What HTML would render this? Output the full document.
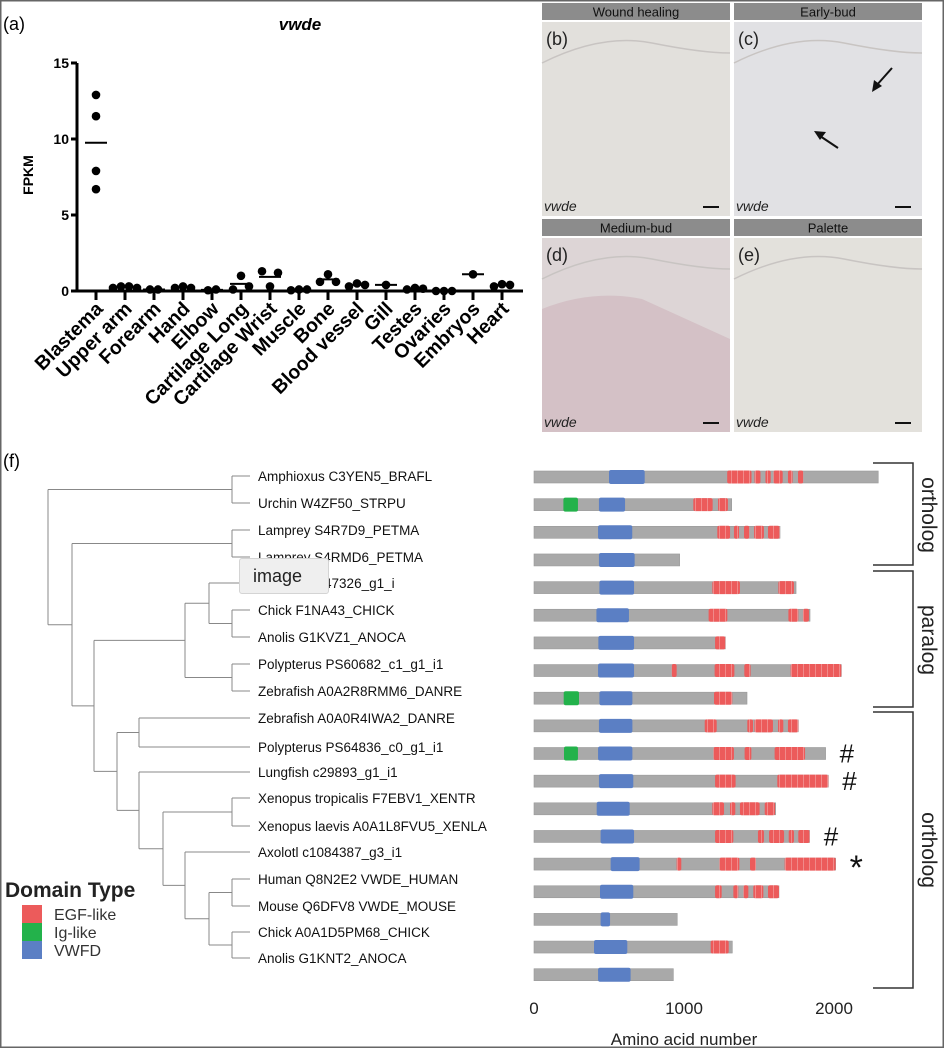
<!DOCTYPE html>
<html><head><meta charset="utf-8"><style>
html,body{margin:0;padding:0;background:#fff;}
#root{position:relative;width:944px;height:1048px;overflow:hidden;font-family:"Liberation Sans",Arial,sans-serif;}
svg{position:absolute;left:0;top:0;}
</style></head><body>
<div id="root">
<svg id="fig" width="944" height="1048" viewBox="0 0 944 1048">
<defs>
<pattern id="egfp" width="6" height="20" patternUnits="userSpaceOnUse"><rect width="6" height="20" fill="#ec5b5b"/><rect x="5" width="1" height="20" fill="#f08a8a"/></pattern>
</defs>
<rect x="0.5" y="0.5" width="943" height="1047" fill="none" stroke="#666" stroke-width="2"/>
<g id="panelA"></g>
<g id="panelsBE"></g>
<g id="tree"></g>
<g id="domains"></g>
</svg>
<div style="position:absolute;left:239px;top:558px;width:90px;height:36px;background:#efefef;border:1px solid #d4d4d4;border-radius:3px;box-sizing:border-box;font-size:18px;line-height:34px;padding-left:13px;color:#222;">image</div>
</div>
<script>
// ---------- Panel (a) data ----------
const tissues = ["Blastema","Upper arm","Forearm","Hand","Elbow","Cartilage Long","Cartilage Wrist","Muscle","Bone","Blood vessel","Gill","Testes","Ovaries","Embryos","Heart"];
const fpkmValues = [[12.9,11.5,7.9,6.7],[0.2,0.3,0.3,0.2],[0.1,0.1],[0.2,0.3,0.2],[0.05,0.1],[0.1,1.0,0.3],[1.3,0.3,1.2],[0.05,0.1,0.1],[0.6,1.1,0.6],[0.3,0.5,0.4],[0.4],[0.1,0.2,0.15],[0,0,0],[1.1],[0.3,0.45,0.4]];
const yTicks = [0,5,10,15];

// ---------- Panel (f) data ----------
const species = ["Amphioxus C3YEN5_BRAFL","Urchin W4ZF50_STRPU","Lamprey S4R7D9_PETMA","Lamprey S4RMD6_PETMA","Axolotl c1047326_g1_i","Chick F1NA43_CHICK","Anolis G1KVZ1_ANOCA","Polypterus PS60682_c1_g1_i1","Zebrafish A0A2R8RMM6_DANRE","Zebrafish A0A0R4IWA2_DANRE","Polypterus PS64836_c0_g1_i1","Lungfish c29893_g1_i1","Xenopus tropicalis F7EBV1_XENTR","Xenopus laevis A0A1L8FVU5_XENLA","Axolotl c1084387_g3_i1","Human Q8N2E2 VWDE_HUMAN","Mouse Q6DFV8 VWDE_MOUSE","Chick A0A1D5PM68_CHICK","Anolis G1KNT2_ANOCA"];
const proteinLengths = [2295,1318,1640,971,1747,1840,1276,2049,1420,1762,1944,1962,1611,1838,2011,1633,955,1322,929];
const vwfdDomains = [[500,738],[433,607],[427,655],[433,671],[436,667],[416,633],[429,667],[427,667],[436,656],[433,656],[427,656],[433,662],[418,638],[444,667],[511,704],[440,662],[444,507],[400,622],[427,644]];
const igDomains = [[],[[196,293]],[],[],[],[],[],[],[[198,300]],[],[[200,293]],[],[],[],[],[],[],[],[]];
const egfDomains = [
 [[1288,1450],[1470,1510],[1543,1578],[1596,1658],[1693,1724],[1760,1795]],
 [[1062,1191],[1227,1293]],
 [[1222,1307],[1333,1367],[1400,1436],[1467,1533],[1560,1638]],
 [],
 [[1189,1373],[1629,1733]],
 [[1164,1289],[1696,1762],[1793,1833]],
 [[1207,1276]],
 [[918,951],[1204,1336],[1402,1444],[1711,2049]],
 [[1200,1322]],
 [[1138,1218],[1422,1460],[1470,1593],[1627,1662],[1693,1762]],
 [[1196,1333],[1404,1449],[1604,1807]],
 [[1207,1344],[1622,1962]],
 [[1189,1267],[1307,1342],[1373,1504],[1538,1607]],
 [[1207,1329],[1493,1533],[1567,1667],[1698,1733],[1762,1838]],
 [[951,982],[1236,1369],[1440,1480],[1671,2011]],
 [[1207,1251],[1329,1362],[1396,1429],[1462,1529],[1560,1633]],
 [],
 [[1178,1298]],
 []
];
const rowMarks = ["","","","","","","","","","","#","#","","#","*","","","",""];
const aaTicks = [0,1000,2000];

const NS="http://www.w3.org/2000/svg";
function mk(parent,tag,attrs,text){const e=document.createElementNS(NS,tag);for(const k in attrs)e.setAttribute(k,attrs[k]);if(text!==undefined)e.textContent=text;parent.appendChild(e);return e;}

// ---------- Panel (a) ----------
(function(){
 const g=document.getElementById('panelA');
 const x0=77,x1=523,y0=291,yTop=63,yMax=15;
 const ys=v=>y0-(v/yMax)*(y0-yTop);
 const xs=i=>96+i*29;
 let t=mk(g,'text',{x:3,y:30,'font-size':18},'(a)');
 
 
 t=mk(g,'text',{x:300,y:30,'font-size':17,'font-weight':'bold','font-style':'italic','text-anchor':'middle'},'vwde');
 
 
 let l=mk(g,'line',{x1:x0,y1:yTop,x2:x0,y2:y0+1.5,stroke:'#000','stroke-width':3});
 
 
 l=mk(g,'line',{x1:x0-1.5,y1:y0,x2:x1,y2:y0,stroke:'#000','stroke-width':3});
 
 
 yTicks.forEach(v=>{
  const tk=mk(g,'line',{x1:x0-6,y1:ys(v),x2:x0,y2:ys(v),stroke:'#000','stroke-width':3});
  
  
  const tl=mk(g,'text',{x:x0-8,y:ys(v)+5,'font-size':14,'font-weight':'bold','text-anchor':'end'},String(v));
  
  
 });
 t=mk(g,'text',{x:0,y:0,'font-size':14,'font-weight':'bold','text-anchor':'middle',transform:'translate(33,175) rotate(-90)'},'FPKM');
 
 
 tissues.forEach((name,i)=>{
  const x=xs(i);
  const tk=mk(g,'line',{x1:x,y1:y0,x2:x,y2:y0+9,stroke:'#000','stroke-width':3});
  
  
  const tl=mk(g,'text',{x:0,y:0,'font-size':19.5,'font-weight':'bold','text-anchor':'end',transform:`translate(${x+8},${y0+19}) rotate(-45)`},name);
  
  
  const vals=fpkmValues[i];
  const mean=vals.reduce((a,b)=>a+b,0)/vals.length;
  const ml=mk(g,'line',{x1:x-11,y1:ys(mean),x2:x+11,y2:ys(mean),stroke:'#000','stroke-width':2});
  
  
  const n=vals.length;
  vals.forEach((v,j)=>{
   const off=i===0?0:(j-(n-1)/2)*8;
   const c=mk(g,'circle',{cx:x+off,cy:ys(v),r:4.3,fill:'#000'});
   
   
  });
 });
})();

// ---------- Panels (b)-(e) ----------
(function(){
 const g=document.getElementById('panelsBE');
 const panels=[["Wound healing","(b)",542,3,"#e2e0dc"],["Early-bud","(c)",734,3,"#e1e1e4"],["Medium-bud","(d)",542,219,"#ddd5d6"],["Palette","(e)",734,219,"#e3e1dc"]];
 panels.forEach(p=>{
  const [title,lab,x,y,col]=p, w=188;
  const h=mk(g,'rect',{x:x,y:y,width:w,height:17,fill:'#8c8c8c'});
  
  
  const ht=mk(g,'text',{x:x+w/2,y:y+13.5,'font-size':13,'text-anchor':'middle',fill:'#111'},title);
  
  
  const im=mk(g,'rect',{x:x,y:y+19,width:w,height:194,fill:col});
  
  
  const ep=mk(g,'path',{d:`M${x},${y+60} Q${x+60},${y+30} ${x+110},${y+40} T${x+188},${y+50}`,fill:'none',stroke:'#c8c4c2','stroke-width':1.5});
  
  
  if(lab==='(d)'){const s=mk(g,'path',{d:`M${x},${y+90} Q${x+50},${y+70} ${x+100},${y+80} L${x+188},${y+120} L${x+188},${y+213} L${x},${y+213} Z`,fill:'#c9a9b4',opacity:0.45});
   
   }
  const pl=mk(g,'text',{x:x+4,y:y+42,'font-size':18,fill:'#222'},lab);
  
  
  const vl=mk(g,'text',{x:x+2,y:y+208,'font-size':14,'font-style':'italic',fill:'#222'},'vwde');
  
  
  const sb=mk(g,'rect',{x:x+161,y:y+203,width:16,height:2,fill:'#111'});
  
  
 });
 const a1=mk(g,'line',{x1:892,y1:68,x2:876,y2:86,stroke:'#111','stroke-width':2});
 
 
 const a2=mk(g,'line',{x1:838,y1:148,x2:820,y2:136,stroke:'#111','stroke-width':2});
 
 
 mk(g,'polygon',{points:'872,92 874,80 882,86',fill:'#111'});
 mk(g,'polygon',{points:'814,131 826,132 820,140',fill:'#111'});
})();

// ---------- Tree ----------
(function(){
 const g=document.getElementById('tree');
 let t=mk(g,'text',{x:3,y:467,'font-size':18},'(f)');
 
 
 const leafY=[476,503,530,557,583,610,637,664,691,718,747,772,798,826,852,879,906,932,958];
 species.forEach((s,i)=>{
  const tl=mk(g,'text',{x:258,y:leafY[i]+5,'font-size':13.5,fill:'#111'},s);
  
  
 });
 const st={stroke:'#888','stroke-width':1,fill:'none'};
 function node(x,children){
  const ys=children.map(c=>c[0]);
  mk(g,'line',Object.assign({x1:x,y1:Math.min(...ys),x2:x,y2:Math.max(...ys)},st));
  children.forEach(c=>mk(g,'line',Object.assign({x1:x,y1:c[0],x2:c[1],y2:c[0]},st)));
  return (Math.min(...ys)+Math.max(...ys))/2;
 }
 const L=250;
 const n1=node(232,[[476,L],[503,L]]);
 const n2=node(232,[[530,L],[557,L]]);
 const n3=node(232,[[610,L],[637,L]]);
 const n4=node(209,[[583,L],[n3,232]]);
 const n5=node(232,[[664,L],[691,L]]);
 const n6=node(185,[[n4,209],[n5,232]]);
 const o1=node(139,[[718,L],[747,L]]);
 const x1=node(232,[[798,L],[826,L]]);
 const h1=node(232,[[879,L],[906,L]]);
 const c1=node(232,[[932,L],[958,L]]);
 const h2=node(209,[[h1,232],[c1,232]]);
 const h3=node(185,[[852,L],[h2,209]]);
 const x2=node(163,[[x1,232],[h3,185]]);
 const l1=node(139,[[772,L],[x2,163]]);
 const o2=node(117,[[o1,139],[l1,139]]);
 const p1=node(94,[[n6,185],[o2,117]]);
 const p2=node(72,[[n2,232],[p1,94]]);
 node(48,[[n1,232],[p2,72]]);
 t=mk(g,'text',{x:5,y:897,'font-size':21,'font-weight':'bold',fill:'#222'},'Domain Type');
 
 
 [["EGF-like","#ec5b5b"],["Ig-like","#23b24b"],["VWFD","#5b7fc4"]].forEach((e,i)=>{
  const r=mk(g,'rect',{x:22,y:905+i*18,width:20,height:18,fill:e[1]});
  
  
  const lt=mk(g,'text',{x:54,y:920+i*18,'font-size':16,fill:'#333'},e[0]);
  
  
 });
})();

// ---------- Domain diagram ----------
(function(){
 const g=document.getElementById('domains');
 const ax0=534,pxPerAa=0.15;
 const xs=a=>ax0+a*pxPerAa;
 const rowY=i=>477+i*27.65;
 species.forEach((s,i)=>{
  const y=rowY(i);
  const b=mk(g,'rect',{x:xs(0),y:y-6,width:xs(proteinLengths[i])-xs(0),height:12,fill:'#a9a9a9',stroke:'#9a9a9a','stroke-width':0.6});
  
  
  igDomains[i].forEach(d=>{
   const r=mk(g,'rect',{x:xs(d[0]),y:y-7,width:xs(d[1])-xs(d[0]),height:14,rx:2,fill:'#23b24b'});
   
   
  });
  const v=vwfdDomains[i];
  const r=mk(g,'rect',{x:xs(v[0]),y:y-7,width:xs(v[1])-xs(v[0]),height:14,rx:2,fill:'#5b7fc4'});
  
  
  egfDomains[i].forEach(d=>{
   const e=mk(g,'rect',{x:xs(d[0]),y:y-6.5,width:xs(d[1])-xs(d[0]),height:13,rx:2,fill:'url(#egfp)'});
   
   
  });
  if(rowMarks[i]){
   const m=mk(g,'text',{x:xs(proteinLengths[i])+14,y:y+(rowMarks[i]==='*'?15:9),'font-size':rowMarks[i]==='*'?34:26,fill:'#111'},rowMarks[i]);
   
   
  }
 });
 aaTicks.forEach(a=>{
  const t=mk(g,'text',{x:xs(a),y:1014,'font-size':17,'text-anchor':'middle',fill:'#222'},String(a));
  
  
 });
 let t=mk(g,'text',{x:684,y:1045,'font-size':17,'text-anchor':'middle',fill:'#222'},'Amino acid number');
 
 
 [[463,565,515,'ortholog'],[571,707,640,'paralog'],[712,988,850,'ortholog']].forEach(bk=>{
  const p=mk(g,'polyline',{points:`873,${bk[0]} 913,${bk[0]} 913,${bk[1]} 873,${bk[1]}`,fill:'none',stroke:'#333','stroke-width':1.5});
  
  
  const tl=mk(g,'text',{x:0,y:0,'font-size':21,'text-anchor':'middle',fill:'#222',transform:`translate(922,${bk[2]}) rotate(90)`},bk[3]);
  
  
 });
})();
</script>
</body></html>
